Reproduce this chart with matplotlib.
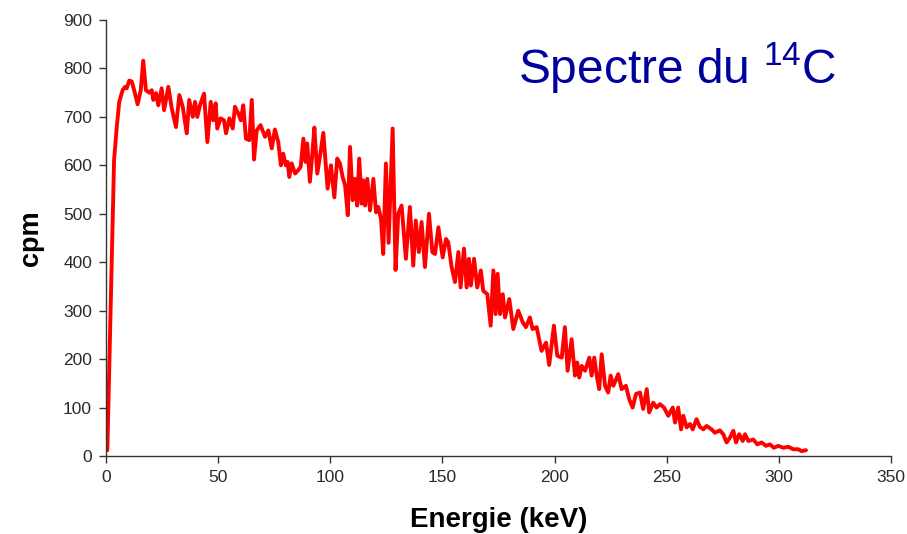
import matplotlib
matplotlib.use("Agg")
import matplotlib.pyplot as plt

plt.rcParams["font.family"] = ["Liberation Sans", "DejaVu Sans"]
plt.rcParams["mathtext.fontset"] = "custom"
plt.rcParams["mathtext.rm"] = "Liberation Sans"

# Spectre beta du carbone 14 (keV, cpm)
energie = [
    0.6, 3.6, 4.8, 5.9, 7.4, 8.5, 9.2, 10.4, 11.5, 12.9, 14.1, 15.5, 16.6, 17.8,
    19.3, 20.4, 21.1, 22.3, 23.3, 24.8, 25.9, 27.8, 29.3, 31.2, 32.7, 34.2, 36.0,
    37.1, 38.7, 39.7, 40.7, 41.9, 43.7, 45.2, 46.7, 47.8, 48.9, 49.6, 51.1, 52.6,
    53.5, 55.0, 56.5, 57.5, 59.0, 60.1, 61.2, 62.4, 63.9, 65.0, 66.0, 67.2, 68.9,
    70.9, 72.4, 73.9, 75.3, 76.8, 78.0, 79.0, 80.2, 81.0, 81.7, 82.8, 84.3, 85.7,
    86.8, 88.0, 89.0, 89.7, 90.9, 92.0, 92.9, 94.2, 95.7, 96.9, 98.8, 100.3,
    101.8, 103.1, 104.3, 105.5, 106.6, 107.8, 108.8, 110.0, 111.0, 112.0, 112.9,
    114.0, 114.7, 115.5, 116.5, 117.7, 119.2, 120.4, 121.4, 122.6, 123.6, 124.8,
    126.0, 127.8, 129.1, 130.3, 131.8, 133.7, 135.5, 137.0, 138.1, 139.5, 140.7,
    142.2, 144.0, 145.5, 146.7, 148.2, 150.1, 151.6, 152.6, 154.1, 155.6, 157.1,
    158.1, 159.6, 160.8, 161.8, 162.7, 164.1, 165.5, 167.1, 168.2, 170.0, 171.5,
    172.7, 173.7, 174.6, 175.7, 176.9, 177.9, 179.8, 181.6, 183.8, 185.8, 187.2,
    189.0, 190.2, 192.0, 194.2, 196.2, 197.6, 199.7, 201.2, 203.2, 204.6, 205.8,
    207.6, 209.1, 210.1, 211.0, 212.1, 213.6, 215.5, 216.5, 217.7, 218.8, 219.9,
    221.0, 222.5, 223.9, 225.0, 226.2, 228.4, 229.9, 231.8, 233.3, 234.8, 236.3,
    238.1, 239.5, 241.1, 242.2, 244.0, 245.5, 247.0, 248.8, 250.7, 252.7, 253.7,
    255.1, 256.4, 257.4, 258.9, 260.4, 261.6, 263.3, 264.8, 266.3, 267.8, 270.0,
    271.5, 273.7, 275.2, 276.7, 278.2, 279.7, 280.9, 282.3, 283.9, 284.9, 286.4,
    288.6, 290.4, 292.3, 294.2, 296.0, 297.8, 299.7, 302.0, 304.2, 306.4, 308.6,
    310.2, 312.1,
]
cpm = [
    12, 611, 679, 731, 755, 762, 759, 775, 773, 749, 726, 755, 816, 755,
    750, 755, 735, 749, 724, 759, 714, 762, 718, 679, 745, 721, 666,
    735, 700, 731, 700, 724, 748, 648, 731, 693, 728, 676, 697, 693,
    666, 697, 676, 721, 707, 693, 724, 655, 652, 735, 612, 672, 683,
    659, 672, 635, 674, 648, 600, 624, 600, 607, 576, 604, 583, 590,
    597, 655, 607, 645, 566, 624, 678, 583, 628, 667, 552, 600,
    534, 614, 604, 576, 559, 497, 638, 528, 572, 517, 614,
    521, 569, 517, 572, 507, 572, 503, 514, 490, 417, 604,
    440, 676, 384, 500, 517, 407, 514, 393, 486, 421, 483,
    390, 500, 421, 417, 472, 410, 448, 441, 390, 359, 421,
    348, 428, 348, 407, 352, 407, 348, 383, 341, 334, 269,
    383, 293, 376, 293, 334, 286, 324, 262, 300, 276, 266,
    286, 262, 266, 217, 234, 188, 269, 207, 203, 266, 176,
    241, 166, 193, 162, 186, 176, 203, 166, 203, 166, 138,
    210, 145, 131, 166, 145, 169, 138, 145, 117, 100, 128,
    131, 97, 138, 90, 110, 100, 107, 100, 83, 100, 69,
    100, 55, 83, 59, 66, 55, 76, 60, 55, 62, 55,
    48, 53, 45, 28, 38, 52, 28, 45, 31, 45, 31,
    34, 24, 28, 21, 24, 17, 21, 17, 19, 14, 14,
    10, 12,
]

xticks = [0, 50, 100, 150, 200, 250, 300, 350]
yticks = [0, 100, 200, 300, 400, 500, 600, 700, 800, 900]

fig = plt.figure(figsize=(9.07, 5.34), dpi=100)
ax = fig.add_axes([106 / 907, 78 / 534, 785 / 907, 436 / 534])

ax.plot(energie, cpm, color="#ff0000", linewidth=2.8,
        solid_joinstyle="round", solid_capstyle="round")

ax.set_xlim(0, 350)
ax.set_ylim(0, 900)
ax.set_xticks(xticks)
ax.set_yticks(yticks)
ax.spines["top"].set_visible(False)
ax.spines["right"].set_visible(False)
for s in ("left", "bottom"):
    ax.spines[s].set_color("#333333")
    ax.spines[s].set_linewidth(1.0)
ax.tick_params(direction="out", length=5, width=1.0, color="#333333",
               labelsize=12.5, labelcolor="#2a2a2a", pad=5)

ax.set_xlabel("Energie (keV)", fontsize=20, fontweight="bold", labelpad=16)
ax.set_ylabel("cpm", fontsize=19.5, fontweight="bold", labelpad=14)

fig.text(518 / 907, 1 - 84 / 534, r"Spectre du $^{14}$C", fontsize=34.5,
         color="#00009c", ha="left", va="baseline")

fig.savefig("out.png", dpi=100)
